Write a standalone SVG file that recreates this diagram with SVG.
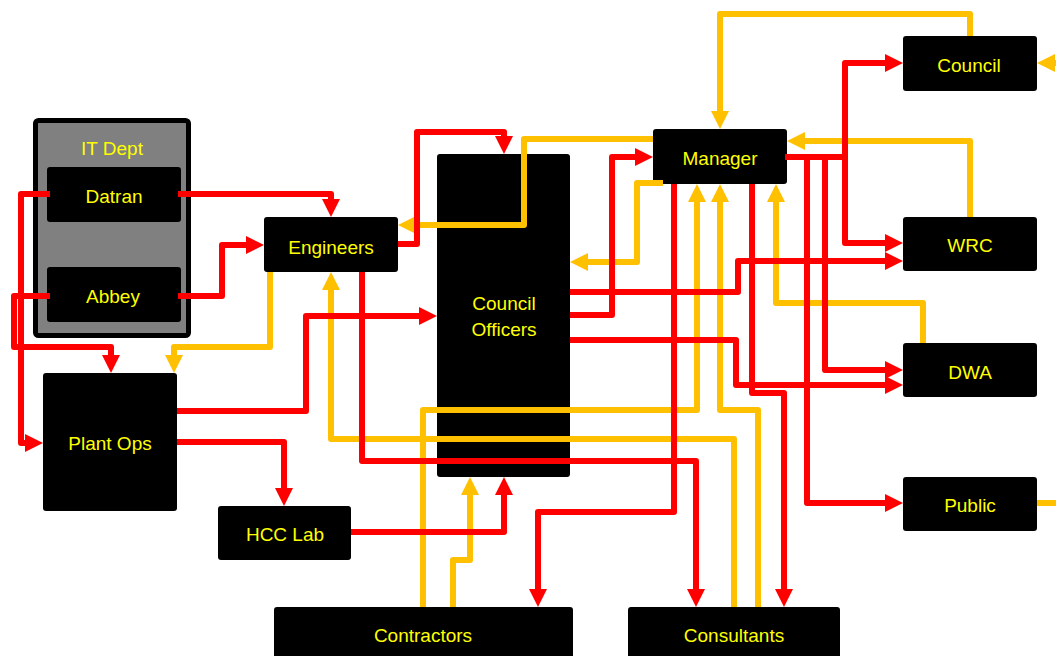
<svg xmlns="http://www.w3.org/2000/svg" width="1056" height="656" viewBox="0 0 1056 656">
<defs>
<style>
.node{fill:#000;}
.lbl{font-family:"Liberation Sans",Arial,sans-serif;font-size:19px;fill:#FFFF00;text-anchor:middle;dominant-baseline:central;}
.r{fill:none;stroke:#FF0000;stroke-width:6;stroke-linejoin:round;}
.y{fill:none;stroke:#FFC000;stroke-width:6;stroke-linejoin:round;}
.r.a{marker-end:url(#ar);}
.y.a{marker-end:url(#ay);}
</style>
<marker id="ar" markerUnits="userSpaceOnUse" markerWidth="18" markerHeight="18" refX="6" refY="9" orient="auto"><path d="M0,0 L18,9 L0,18 z" fill="#FF0000"/></marker>
<marker id="ay" markerUnits="userSpaceOnUse" markerWidth="18" markerHeight="18" refX="6" refY="9" orient="auto"><path d="M0,0 L18,9 L0,18 z" fill="#FFC000"/></marker>
</defs>
<rect width="1056" height="656" fill="#fff"/>
<g id="it-dept">
<rect x="35.5" y="120.5" width="153" height="215" rx="3" fill="#808080" stroke="#000" stroke-width="5"/>
<text class="lbl" x="112" y="148" font-size="18">IT Dept</text>
</g>
<g id="datran"><rect class="node" x="47" y="167" width="134" height="55" rx="3"/><text class="lbl" x="114" y="196">Datran</text></g>
<g id="abbey"><rect class="node" x="47" y="267" width="134" height="55" rx="3"/><text class="lbl" x="113" y="296">Abbey</text></g>
<g id="engineers"><rect class="node" x="264" y="217" width="134" height="55" rx="3"/><text class="lbl" x="331" y="247">Engineers</text></g>
<g id="council-officers"><rect class="node" x="437" y="154" width="133" height="323" rx="3"/><text class="lbl" x="504" y="303">Council</text><text class="lbl" x="504" y="329">Officers</text></g>
<g id="manager"><rect class="node" x="653" y="129" width="134" height="55" rx="3"/><text class="lbl" x="720" y="158">Manager</text></g>
<g id="council"><rect class="node" x="903" y="36" width="134" height="55" rx="3"/><text class="lbl" x="969" y="65">Council</text></g>
<g id="wrc"><rect class="node" x="903" y="217" width="134" height="54" rx="3"/><text class="lbl" x="970" y="245">WRC</text></g>
<g id="dwa"><rect class="node" x="903" y="343" width="134" height="54" rx="3"/><text class="lbl" x="970" y="372">DWA</text></g>
<g id="public"><rect class="node" x="903" y="477" width="134" height="54" rx="3"/><text class="lbl" x="970" y="505">Public</text></g>
<g id="plant-ops"><rect class="node" x="43" y="373" width="134" height="138" rx="3"/><text class="lbl" x="110" y="443">Plant Ops</text></g>
<g id="hcc-lab"><rect class="node" x="218" y="506" width="133" height="54" rx="3"/><text class="lbl" x="285" y="534">HCC Lab</text></g>
<g id="contractors"><rect class="node" x="274" y="607" width="299" height="60" rx="3"/><text class="lbl" x="423" y="635">Contractors</text></g>
<g id="consultants"><rect class="node" x="628" y="607" width="212" height="60" rx="3"/><text class="lbl" x="734" y="635">Consultants</text></g>
<g id="connectors">
<path class="y a" d="M270,272 V347 H174 V361"/>
<path class="y a" d="M653,139 H524 V225 H410"/>
<path class="y a" d="M663,183 H637 V262 H582"/>
<path class="y a" d="M970,36 V14 H720 V117"/>
<path class="y a" d="M970,217 V141 H799"/>
<path class="y a" d="M923,343 V303 H776 V196"/>
<path class="y a" d="M423,607 V410 H697 V196"/>
<path class="y a" d="M758,607 V410 H720 V196"/>
<path class="y a" d="M734,607 V439 H331 V284"/>
<path class="y a" d="M453,607 V560 H470 V489"/>
<path class="y a" d="M1060,63 H1049"/>
<path class="y" d="M1037,503 H1056"/>
<path class="r a" d="M178,194 H331 V205"/>
<path class="r a" d="M178,296 H222 V245 H252"/>
<path class="r a" d="M50,194 H21 V443 H31"/>
<path class="r a" d="M50,296 H14 V347 H111 V361"/>
<path class="r a" d="M177,411 H306 V316 H425"/>
<path class="r a" d="M177,442 H284 V494"/>
<path class="r a" d="M351,532 H504 V489"/>
<path class="r a" d="M398,244 H417 V132 H504 V142"/>
<path class="r a" d="M570,315 H612 V157 H641"/>
<path class="r a" d="M570,292 H738 V261 H891"/>
<path class="r a" d="M570,340 H736 V385 H891"/>
<path class="r a" d="M785,157 H845 V63 H891"/>
<path class="r a" d="M845,157 V243 H891"/>
<path class="r a" d="M785,157 H825 V370 H891"/>
<path class="r a" d="M785,157 H807 V503 H891"/>
<path class="r a" d="M674,184 V512 H538 V595"/>
<path class="r a" d="M752,184 V393 H784 V595"/>
<path class="r a" d="M362,272 V461 H696 V595"/>
</g>
</svg>
